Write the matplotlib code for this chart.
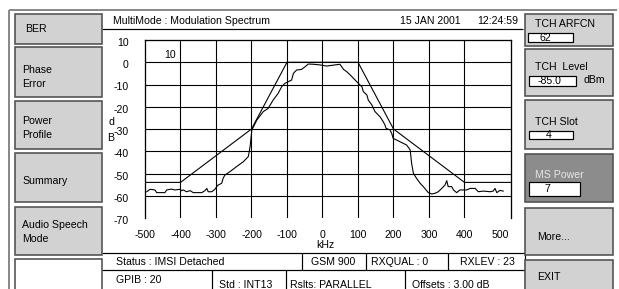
"""Recreate the MultiMode : Modulation Spectrum instrument screen."""
import matplotlib
matplotlib.use("Agg")
import matplotlib.pyplot as plt
from matplotlib.patches import Rectangle
from matplotlib.transforms import ScaledTranslation

plt.rcParams["font.family"] = ["Liberation Sans", "DejaVu Sans"]

freq_khz = [-495, -486, -472, -467, -444, -439, -425, -416, -401, -397, -392, -383,
            -373, -364, -340, -331, -326, -322, -312, -303, -298, -294, -284, -280,
            -275, -261, -242, -223, -209, -204, -199, -185, -167, -153, -139, -125,
            -115, -106, -96, -87, -82, -73, -59, -49, -40, -26, -7, 12, 49, 54, 59,
            68, 78, 92, 101, 111, 115, 125, 129, 139, 148, 162, 171, 176, 179, 190,
            195, 199, 218, 237, 247, 251, 256, 265, 275, 284, 298, 308, 317, 326,
            336, 345, 350, 354, 364, 369, 378, 387, 406, 416, 430, 439, 453, 472,
            481, 486, 491, 500, 509]
level_db = [-58.2, -57.1, -57.4, -58.6, -58.6, -57.4, -57.0, -57.4, -57.1, -57.7,
            -57.4, -58.2, -57.7, -58.6, -58.6, -57.7, -56.7, -58.2, -58.2, -57.1,
            -55.9, -55.2, -54.4, -52.2, -50.7, -49.2, -46.9, -44.7, -42.4, -38.0,
            -30.4, -26.0, -22.2, -20.7, -17.0, -14.0, -11.0, -9.5, -8.7, -8.0, -5.0,
            -3.5, -3.2, -2.0, -0.8, -0.9, -1.2, -1.7, -0.9, -2.0, -3.2, -4.2, -5.7,
            -8.0, -9.5, -11.0, -13.2, -14.7, -17.0, -19.2, -22.2, -24.5, -26.7,
            -28.2, -29.7, -30.4, -32.0, -34.2, -35.7, -37.2, -39.4, -45.4, -49.9,
            -52.2, -54.4, -55.9, -58.6, -59.2, -58.9, -58.2, -56.7, -55.2, -53.2,
            -55.9, -55.9, -57.4, -58.6, -57.4, -57.4, -56.7, -56.7, -58.2, -57.9,
            -58.2, -57.9, -56.7, -58.6, -57.6, -57.9]

# GSM limit mask
mask_khz = [-500, -400, -200, -100, 100, 200, 400, 531]
mask_db = [-54, -54, -30, 0, 0, -30, -54, -54]

x_ticks = [-500, -400, -300, -200, -100, 0, 100, 200, 300, 400, 500]
y_ticks = [10, 0, -10, -20, -30, -40, -50, -60, -70]
x_grid = [-400, -300, -200, -100, 0, 100, 200, 300, 400]
y_grid = [0, -10, -20, -30, -40, -50, -60]
x_range = (-500, 531)
y_range = (-70, 10)

title = "MultiMode : Modulation Spectrum"
date_text = "15 JAN 2001"
time_text = "12:24:59"
marker_text = "10"

left_buttons = ["BER", "Phase\nError", "Power\nProfile", "Summary", "Audio Speech\nMode", ""]
right_labels = ["TCH ARFCN", "TCH  Level", "TCH Slot", "MS Power", "More...", "EXIT"]
right_values = ["62", "-85.0", "4", "7", None, None]
right_units = ["", "dBm", "", "", "", ""]
status_row = ["Status : IMSI Detached", "GSM 900", "RXQUAL : 0", "RXLEV : 23"]
info_row = ["GPIB : 20", "Std : INT13", "Rslts: PARALLEL", "Offsets : 3.00 dB"]

W, H = 619, 289
FS = 7.6
PX = 0.72  # one pixel in points at dpi 100


def button(bg, x0, y0, x1, y1, fill="#d2d2d2"):
    bg.add_patch(Rectangle((x0, y0), x1 - x0, y1 - y0, facecolor=fill,
                           edgecolor="#505050", lw=1.6 * PX, zorder=2))


def entry(bg, x0, y0, x1, y1, text, tx):
    bg.add_patch(Rectangle((x0, y0), x1 - x0, y1 - y0, facecolor="white",
                           edgecolor="black", lw=1.2 * PX, zorder=3))
    bg.text(tx, (y0 + y1) / 2 + 0.5, text, fontsize=FS, va="center", ha="left", zorder=4)


def hline(bg, y, x0, x1, **kw):
    bg.plot([x0, x1], [y, y], color=kw.get("color", "black"), lw=kw.get("lw", PX * 1.2),
            solid_capstyle="butt", zorder=1)


def vline(bg, x, y0, y1, **kw):
    bg.plot([x, x], [y0, y1], color=kw.get("color", "black"), lw=kw.get("lw", PX * 1.2),
            solid_capstyle="butt", zorder=1)


def draw_screen(fig):
    bg = fig.add_axes([0, 0, 1, 1])
    bg.set_xlim(0, W)
    bg.set_ylim(H, 0)
    bg.set_axis_off()

    # outer frame
    hline(bg, 10, 9, 617, color="#8a8a8a", lw=2 * PX)
    vline(bg, 9, 10, H, color="#8a8a8a", lw=2 * PX)

    # left soft keys
    spans = [(14, 44), (47, 97), (101, 149), (153, 202), (207, 255), (259, 300)]
    text_y = [29, 77, 128, 181, 232, None]
    for label, (y0, y1), ty in zip(left_buttons, spans, text_y):
        button(bg, 15, y0, 102, y1, fill="#d2d2d2" if label else "white")
        if label:
            bg.text(22 if "\n" in label or label == "Summary" else 25, ty, label,
                    fontsize=FS, va="center", ha="left", linespacing=1.45, zorder=4)

    # right panel
    rspans = [(14, 46), (49, 96), (100, 149), (154, 202), (208, 255), (260, 300)]
    label_y = [24, 67, 122, 175, 237, 277]
    boxes = [(528, 33, 573, 42, 540), (529, 76, 576, 86, 538),
             (529, 131, 573, 139, 546), (529, 182, 580, 196, 544)]
    for i, (label, (y0, y1)) in enumerate(zip(right_labels, rspans)):
        dark = label == "MS Power"
        button(bg, 525, y0, 613, y1, fill="#8c8c8c" if dark else "#d2d2d2")
        bg.text(535 if i < 4 else 537, label_y[i], label, fontsize=FS, va="center", ha="left",
                color="#e6e6e6" if dark else "black", zorder=4)
        if right_values[i] is not None:
            x0, yb0, x1, yb1, tx = boxes[i]
            entry(bg, x0, yb0, x1, yb1, right_values[i], tx)
        if right_units[i]:
            bg.text(583, 80, right_units[i], fontsize=FS, va="center", ha="left", zorder=4)

    # title bar
    bg.text(113, 21.5, title, fontsize=FS, va="center", ha="left")
    bg.text(400, 21.5, date_text, fontsize=FS, va="center", ha="left")
    bg.text(477, 21.5, time_text, fontsize=FS, va="center", ha="left")
    hline(bg, 29, 102, 523)

    # dB axis caption, stacked letters
    bg.text(111, 122, "d", fontsize=FS, va="center", ha="center")
    bg.text(111, 138, "B", fontsize=FS, va="center", ha="center")
    bg.text(325, 245, "kHz", fontsize=FS, va="center", ha="center")

    # status table
    hline(bg, 253, 102, 525)
    hline(bg, 270, 102, 525)
    for x in (302, 366, 448):
        vline(bg, x, 253, 270)
    for x in (212, 286, 405):
        vline(bg, x, 270, H)
    vline(bg, 525, 253, H)
    row1_x = [116, 333, 371, 460]
    for i, (txt, x) in enumerate(zip(status_row, row1_x)):
        bg.text(x, 262, txt, fontsize=FS, va="center", ha="center" if i == 1 else "left")
    row2_x = [116, 219, 290, 412]
    row2_y = [280, 285, 285, 285]
    for txt, x, y in zip(info_row, row2_x, row2_y):
        bg.text(x, y, txt, fontsize=FS, va="center", ha="left")
    return bg


def draw_spectrum(fig):
    ax = fig.add_axes([145 / W, 1 - 218 / H, 366 / W, 178 / H], zorder=5)
    ax.patch.set_alpha(0)
    ax.set_xlim(*x_range)
    ax.set_ylim(*y_range)
    for x in x_grid:
        ax.axvline(x, color="black", lw=1.1 * PX)
    for y in y_grid:
        ax.axhline(y, color="black", lw=1.1 * PX)
    ax.plot(mask_khz, mask_db, color="black", lw=1.1 * PX)
    ax.plot(freq_khz, level_db, color="black", lw=1.1 * PX)
    ax.text(-430, 3.3, marker_text, fontsize=FS, va="center", ha="center")

    ax.spines["bottom"].set_visible(False)
    for s in ("left", "top", "right"):
        ax.spines[s].set_linewidth(1.3 * PX)
    ax.set_xticks(x_ticks)
    ax.set_xticklabels([str(v) for v in x_ticks], fontsize=FS)
    ax.set_yticks(y_ticks)
    ax.set_yticklabels([str(v) for v in y_ticks], fontsize=FS)
    ax.tick_params(length=0)
    ax.tick_params(axis="x", pad=8.5)
    ax.tick_params(axis="y", pad=12)
    shift = ScaledTranslation(0, -2 / 100, fig.dpi_scale_trans)
    for lab in ax.get_yticklabels():
        lab.set_transform(lab.get_transform() + shift)
    return ax


def main():
    fig = plt.figure(figsize=(W / 100, H / 100), dpi=100)
    fig.patch.set_facecolor("white")
    draw_screen(fig)
    draw_spectrum(fig)
    fig.savefig("out.png", dpi=100)


if __name__ == "__main__":
    main()
